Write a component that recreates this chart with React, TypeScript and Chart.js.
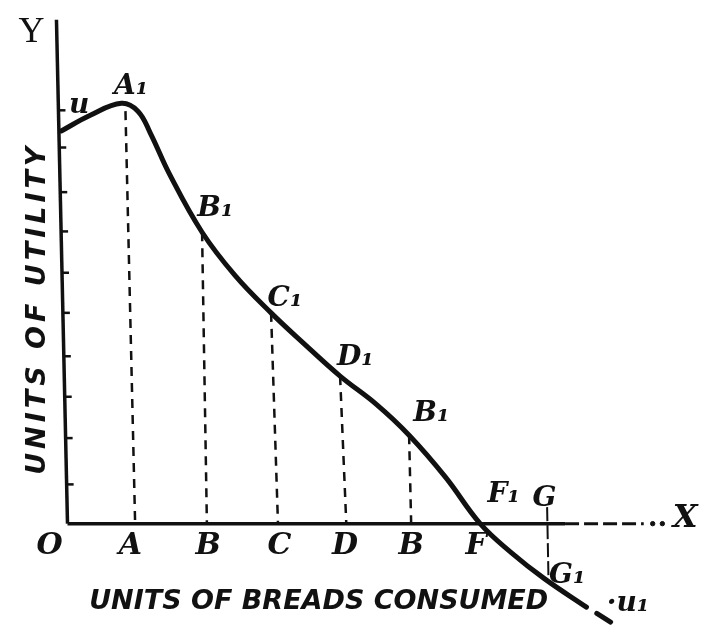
import React, { useEffect, useRef } from "react";
import { Chart, registerables } from "chart.js";

Chart.register(...registerables);

// Marginal utility curve (units of utility vs units of bread consumed)
const curveX = [-0.07, 0.35, 0.8, 1.04, 1.22, 1.5, 1.97, 2.45, 2.97, 3.45, 3.97, 4.5, 4.97, 5.5, 6.0, 6.45, 6.93, 7.54];
const curveY = [9.5, 9.88, 10.17, 9.98, 9.45, 8.45, 7.05, 6.0, 5.1, 4.35, 3.57, 2.88, 2.14, 1.12, 0, -0.7, -1.33, -2.02];
const tailX = [7.69, 7.89];
const tailY = [-2.17, -2.38];

// Dashed drop lines A..E (curve point down to axis)
const dropTopX = [0.86, 1.97, 2.97, 3.97, 4.97];
const dropTopY = [9.98, 7.05, 5.1, 3.57, 2.14];
const dropBaseX = [1.0, 2.04, 3.07, 4.06, 5.0];

// G line (from G above axis down to G1 on curve)
const gLineX = [6.97, 6.99];
const gLineY = [0.4, -1.33];

// Y axis tick marks
const yTicks = [0.95, 2.07, 3.07, 4.05, 5.1, 6.07, 7.07, 8.02, 9.1, 10.0];

// Axis geometry
const yAxisX = [-0.14, 0.02];
const yAxisY = [12.19, 0];
const xAxisSolidX = [0.02, 7.23];
const xAxisDashX = [7.23, 8.37];
const xAxisDotsX = [8.5, 8.64];

// Text labels
const xTickLabels = ["O", "A", "B", "C", "D", "B", "F"];
const xTickPos = [-0.24, 0.93, 2.06, 3.09, 4.04, 5.0, 5.94];
const pointLabels = ["u", "A₁", "B₁", "C₁", "D₁", "B₁", "F₁", "G", "G₁", "·u₁"];
const pointLabelX = [0.19, 0.94, 2.16, 3.17, 4.19, 5.29, 6.34, 6.93, 7.26, 8.14];
const pointLabelY = [10.12, 10.57, 7.62, 5.45, 4.02, 2.67, 0.71, 0.6, -1.26, -1.93];
const xTitle = "UNITS OF BREADS CONSUMED";
const yTitle = "UNITS OF UTILITY";

const INK = "#111";

export default function App() {
  const ref = useRef<HTMLCanvasElement | null>(null);

  useEffect(() => {
    const canvas = ref.current;
    if (!canvas) return;

    const pts = (xs: number[], ys: number[]) => xs.map((x, i) => ({ x, y: ys[i] }));
    const base = {
      showLine: true,
      pointRadius: 0,
      borderColor: INK,
      backgroundColor: INK,
      fill: false,
    };

    const datasets: any[] = [
      { ...base, data: pts(curveX, curveY), borderWidth: 5, tension: 0.4, borderCapStyle: "round", borderJoinStyle: "round" },
      { ...base, data: pts(tailX, tailY), borderWidth: 5, borderCapStyle: "round" },
      { ...base, data: pts(yAxisX, yAxisY), borderWidth: 3.5 },
      { ...base, data: pts(xAxisSolidX, [0, 0]), borderWidth: 3.5 },
      { ...base, data: pts(xAxisDashX, [0, 0]), borderWidth: 3, borderDash: [14, 5] },
      { ...base, showLine: false, data: pts(xAxisDotsX, [0, 0]), pointRadius: 2.2, pointStyle: "circle" },
      { ...base, data: pts(gLineX, gLineY), borderWidth: 2, borderDash: [14, 4] },
    ];
    dropTopX.forEach((tx, i) => {
      datasets.push({
        ...base,
        data: [
          { x: tx, y: dropTopY[i] },
          { x: dropBaseX[i], y: 0 },
        ],
        borderWidth: 2.5,
        borderDash: [9, 7],
      });
    });

    const labelPlugin = {
      id: "labels",
      afterDatasetsDraw(chart: any) {
        const { ctx, scales } = chart;
        const sx = scales.x;
        const sy = scales.y;
        const px = (v: number) => sx.getPixelForValue(v);
        const py = (v: number) => sy.getPixelForValue(v);
        ctx.save();
        ctx.fillStyle = INK;
        ctx.strokeStyle = INK;

        // y-axis tick marks (inside, to the right of the axis)
        ctx.lineWidth = 2.5;
        const ax0 = px(yAxisX[0]), ay0 = py(yAxisY[0]);
        const ax1 = px(yAxisX[1]), ay1 = py(yAxisY[1]);
        yTicks.forEach((t) => {
          const yy = py(t);
          const xx = ax0 + ((yy - ay0) / (ay1 - ay0)) * (ax1 - ax0);
          ctx.beginPath();
          ctx.moveTo(xx, yy);
          ctx.lineTo(xx + 7, yy);
          ctx.stroke();
        });

        ctx.textAlign = "center";
        ctx.textBaseline = "middle";

        // x category labels
        ctx.font = "bold italic 30px 'DejaVu Serif'";
        xTickLabels.forEach((t, i) => {
          ctx.fillText(t, px(xTickPos[i]), py(-0.55));
        });

        // point labels
        ctx.font = "bold italic 28px 'DejaVu Serif'";
        pointLabels.forEach((t, i) => {
          ctx.fillText(t, px(pointLabelX[i]), py(pointLabelY[i]));
        });

        // Axis letters
        ctx.font = "36px 'Liberation Serif'";
        ctx.fillText("Y", px(-0.5), py(11.88));
        ctx.font = "bold italic 32px 'DejaVu Serif'";
        ctx.fillText("X", px(8.97), py(0.12));

        // Titles
        ctx.font = "bold oblique 27px 'DejaVu Sans'";
        ctx.fillText(xTitle, px(3.66), py(-1.9));

        ctx.save();
        (ctx as any).letterSpacing = "4px";
        ctx.translate(px(-0.41), py(5.2));
        ctx.rotate(-Math.PI / 2);
        ctx.fillText(yTitle, 0, 0);
        ctx.restore();

        ctx.restore();
      },
    };

    const chart = new Chart(canvas, {
      type: "scatter",
      data: { datasets },
      options: {
        responsive: false,
        maintainAspectRatio: false,
        animation: false,
        layout: { padding: 0 },
        plugins: { legend: { display: false }, tooltip: { enabled: false } },
        scales: {
          x: { type: "linear", min: -62 / 70, max: (706 - 62) / 70, display: false },
          y: { type: "linear", min: -105 / 42, max: 527 / 42, display: false },
        },
      },
      plugins: [labelPlugin],
    });

    return () => chart.destroy();
  }, []);

  return (
    <div style={{ position: "fixed", left: 0, top: 0, width: 706, height: 632, background: "#fff" }}>
      <canvas ref={ref} width={706} height={632} />
    </div>
  );
}
